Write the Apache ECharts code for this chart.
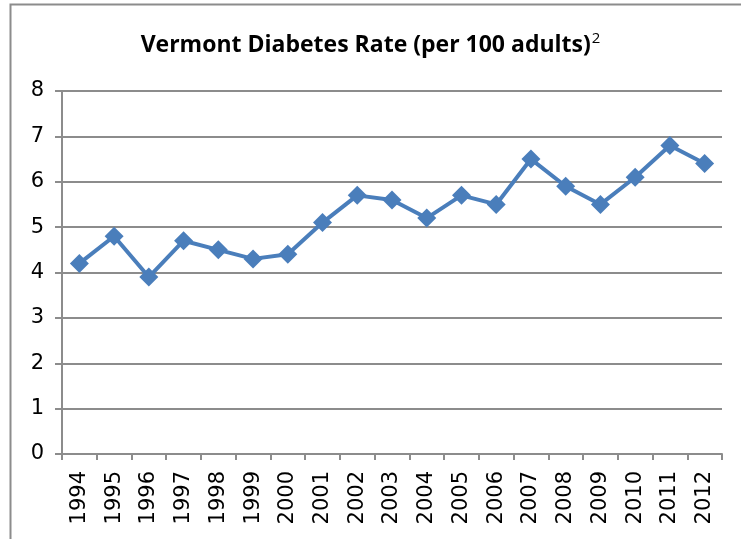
<!DOCTYPE html>
<html><head><meta charset="utf-8">
<script src="https://cdn.jsdelivr.net/npm/echarts@6/dist/echarts.min.js"></script>
<style>html,body{margin:0;padding:0;background:#fff}#c{width:741px;height:539px}</style>
</head><body><div id="c"></div>
<script>
const years = ['1994','1995','1996','1997','1998','1999','2000','2001','2002','2003','2004','2005','2006','2007','2008','2009','2010','2011','2012'];
const rates = [4.2,4.8,3.9,4.7,4.5,4.3,4.4,5.1,5.7,5.6,5.2,5.7,5.5,6.5,5.9,5.5,6.1,6.8,6.4];
const titleMain = 'Vermont Diabetes Rate (per 100 adults)';
const titleSup = '2';

const chart = echarts.init(document.getElementById('c'));
chart.setOption({
  animation: false,
  backgroundColor: '#fff',
  title: {
    text: '{m|' + titleMain + '}{s|' + titleSup + '}',
    left: 'center', top: 26,
    textStyle: {
      rich: {
        m: {fontFamily: 'Open Sans', fontWeight: 'bold', fontSize: 23, color: '#000', letterSpacing: -0.3},
        s: {fontFamily: 'Open Sans', fontWeight: 'normal', fontSize: 15, color: '#000', verticalAlign: 'top', padding: [0,0,13,1]}
      }
    }
  },
  graphic: [{
    type: 'rect', left: 8, top: 2, silent: true,
    shape: {width: 800, height: 600},
    style: {fill: 'none', stroke: '#8c8c8c', lineWidth: 2}
  }],
  grid: {left: 62, right: 19, top: 91, bottom: 85},
  xAxis: {
    type: 'category', data: years, boundaryGap: true,
    axisLine: {lineStyle: {color: '#8c8c8c', width: 2}},
    axisTick: {show: true, length: 6, lineStyle: {color: '#8c8c8c', width: 2}},
    axisLabel: {rotate: 90, color: '#000', fontFamily: 'DejaVu Sans', fontSize: 21, margin: 17}
  },
  yAxis: {
    type: 'value', min: 0, max: 8, interval: 1,
    axisLine: {show: true, lineStyle: {color: '#8c8c8c', width: 2}},
    axisTick: {show: true, length: 7, lineStyle: {color: '#8c8c8c', width: 2}},
    axisLabel: {color: '#000', fontFamily: 'DejaVu Sans', fontSize: 21, margin: 18},
    splitLine: {lineStyle: {color: '#8c8c8c', width: 2}}
  },
  series: [{
    type: 'line', data: rates,
    symbol: 'diamond', symbolSize: 19,
    lineStyle: {color: '#4a7ebb', width: 4},
    itemStyle: {color: '#4a7ebb'}
  }]
});
</script></body></html>
